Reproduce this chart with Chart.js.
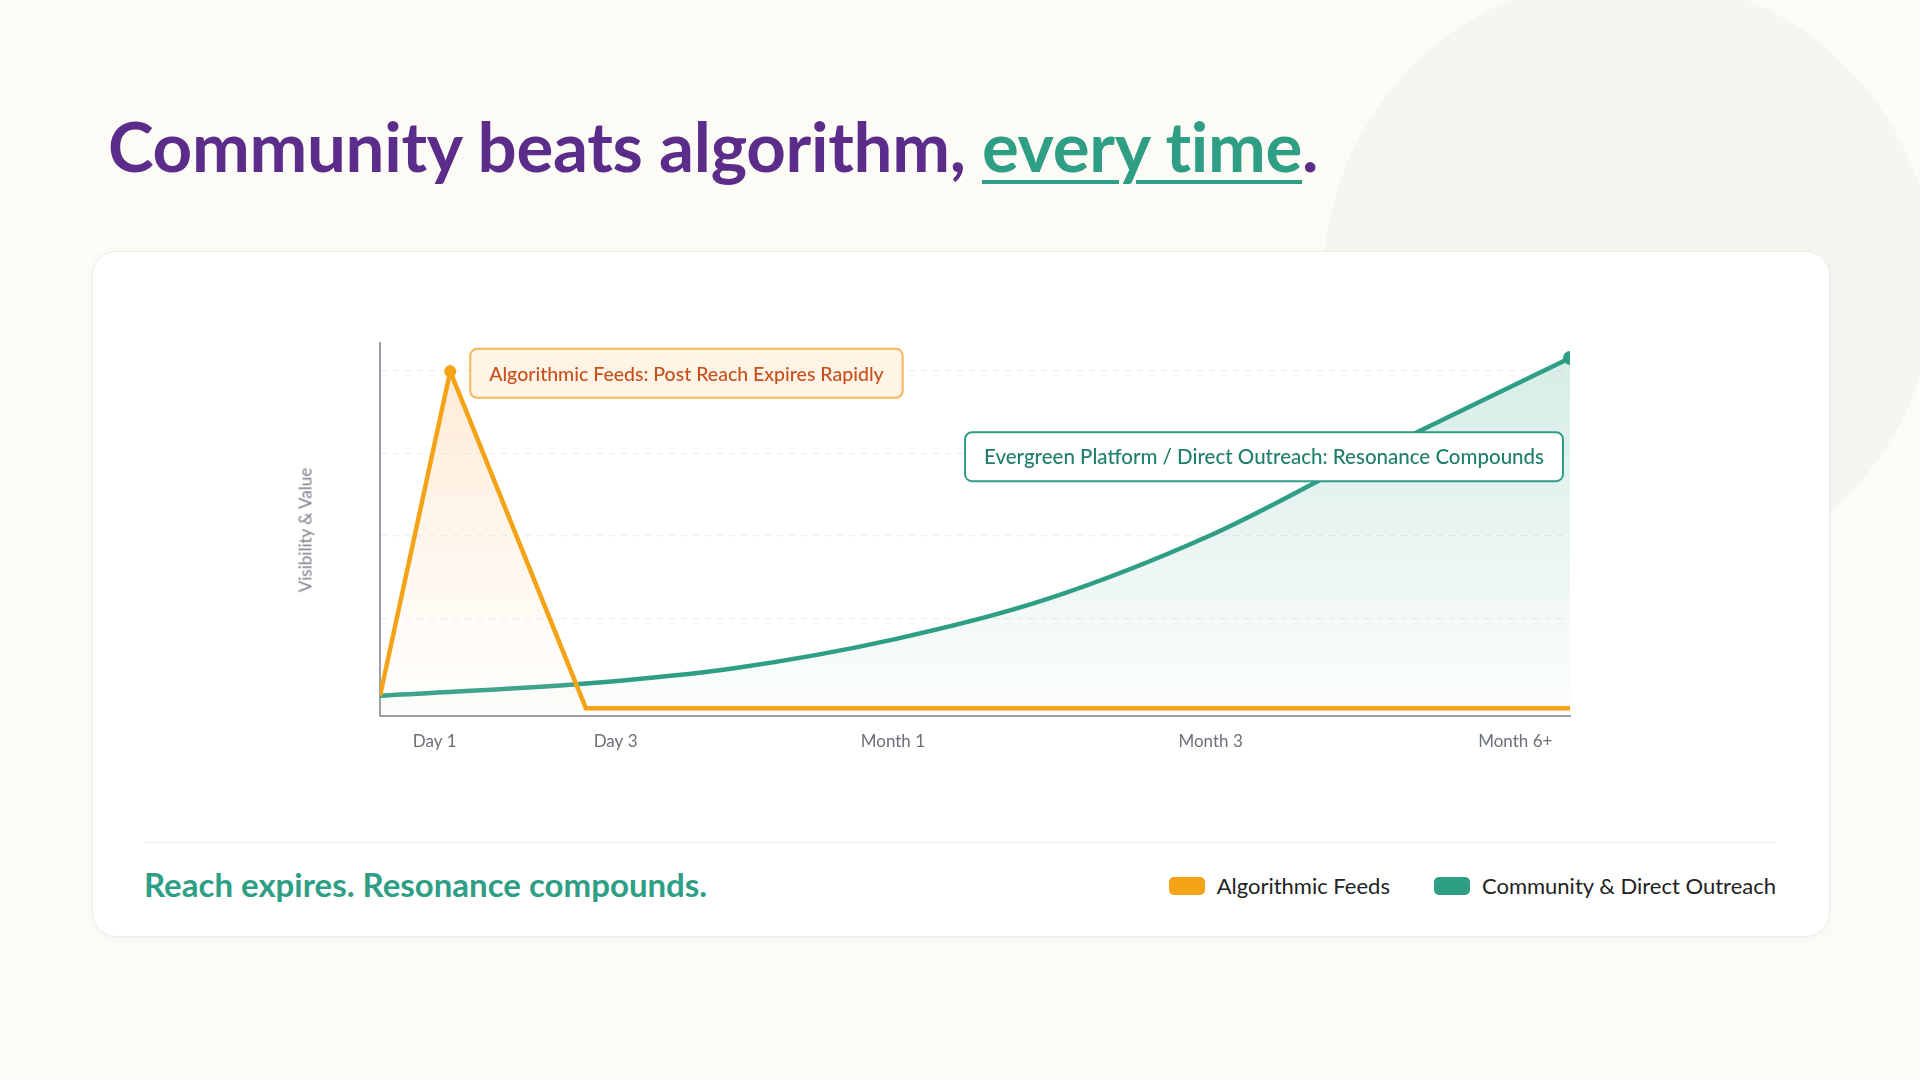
<!DOCTYPE html>
<html><head><meta charset="utf-8">
<script src="https://cdn.jsdelivr.net/npm/chart.js@4.4.1/dist/chart.umd.min.js"></script>
<style>
html,body{margin:0;padding:0;width:1920px;height:1080px;overflow:hidden;background:#fcfbf6;font-family:Lato,"Noto Sans",sans-serif}
#circle{position:absolute;left:1323px;top:-24px;width:612px;height:612px;border-radius:50%;background:#f7f5ef}
h1{position:absolute;left:108px;top:104px;margin:0;font-size:69px;font-weight:700;color:#5b2c8a;letter-spacing:-0.3px}
h1 u{color:#2e9e85;text-decoration-thickness:4px;text-underline-offset:8px}
#card{position:absolute;left:92px;top:251px;width:1736px;height:684px;background:#fff;border:1px solid #eeece6;border-radius:24px;box-shadow:0 2px 10px rgba(0,0,0,0.03)}
#wrap{position:absolute;left:240px;top:300px;width:1400px;height:480px}
#ytitle{position:absolute;left:305px;top:530px;transform:translate(-50%,-50%) rotate(-90deg);font-size:17px;color:#7c7f86;white-space:nowrap}
#rule{position:absolute;left:144px;top:842px;width:1632px;height:1px;background:#eeece6}
#tag{position:absolute;left:144px;top:864px;font-size:33px;font-weight:700;color:#2e9e85}
#legend{position:absolute;right:144px;top:872px;display:flex;gap:44px;font-size:22px;color:#222}
.li{display:flex;align-items:center;gap:12px}
.sw{width:36px;height:18px;border-radius:5px;display:inline-block}
</style></head><body>
<div id="circle"></div>
<h1>Community beats algorithm, <u>every time</u>.</h1>
<div id="card"></div>
<div id="wrap"><canvas id="c"></canvas></div>
<div id="ytitle">Visibility &amp; Value</div>
<div id="rule"></div>
<div id="tag">Reach expires. Resonance compounds.</div>
<div id="legend"><div class="li"><span class="sw" style="background:#f5a316"></span>Algorithmic Feeds</div><div class="li"><span class="sw" style="background:#2e9e85"></span>Community &amp; Direct Outreach</div></div>
<script>
const tickPositions=[4.6,19.8,43.1,69.8,95.4];
const tickLabels=['Day 1','Day 3','Month 1','Month 3','Month 6+'];
const gridValues=[26,48.2,70.4,92.6];
const algoX=[0,5.9,17.3,100];
const algoY=[5.3,92.4,2,2];
const commX=[0,17.3,29.9,43.1,55.7,69.8,81.4,100];
const commY=[5.3,8.6,12.8,20.4,30.9,48.4,67.1,96];
const algoNote='Algorithmic Feeds: Post Reach Expires Rapidly';
const commNote='Evergreen Platform / Direct Outreach: Resonance Compounds';

const ctx=document.getElementById('c');
function grad(c,col1,col2){const {chart}=c;const a=chart.chartArea;if(!a)return col1;const g=chart.ctx.createLinearGradient(0,a.top,0,a.bottom);g.addColorStop(0,col1);g.addColorStop(1,col2);return g;}
const notes={id:'notes',afterDatasetsDraw(chart){
 const c=chart.ctx,x=chart.scales.x,y=chart.scales.y;
 c.save();c.font='500 19.5px Lato, "Noto Sans", sans-serif';c.textBaseline='middle';
 function box(x0,yc,text,bg,border,color,alignRight){
  const w=c.measureText(text).width+38,h=49;const left=alignRight?x0-w:x0;
  c.beginPath();c.roundRect(left,yc-h/2,w,h,7);c.fillStyle=bg;c.fill();c.lineWidth=2;c.strokeStyle=border;c.stroke();
  c.fillStyle=color;c.fillText(text,left+19,yc+1);}
 box(x.getPixelForValue(algoX[1])+20,y.getPixelForValue(algoY[1])+2,algoNote,'#fff4e6','#f7b65a','#c8501c',false);
 c.font='500 20.5px Lato, "Noto Sans", sans-serif';
 box(x.getPixelForValue(100)-7,y.getPixelForValue(69.5),commNote,'#ffffff','#2e9e85','#1f7f6a',true);
 c.restore();}};
new Chart(ctx,{type:'line',
 data:{datasets:[
  {label:'Algorithmic Feeds',data:algoX.map((v,i)=>({x:v,y:algoY[i]})),borderColor:'#f5a316',borderWidth:4.5,tension:0,fill:'origin',
   backgroundColor:c=>grad(c,'rgba(253,204,150,0.45)','rgba(253,230,200,0.05)'),
   pointRadius:[0,6,0,0],pointBackgroundColor:'#f5a316',pointBorderWidth:0},
  {label:'Community & Direct Outreach',data:commX.map((v,i)=>({x:v,y:commY[i]})),borderColor:'#2e9e85',borderWidth:4.5,cubicInterpolationMode:'monotone',fill:'origin',
   backgroundColor:c=>grad(c,'rgba(46,158,133,0.2)','rgba(46,158,133,0.01)'),
   pointRadius:[0,0,0,0,0,0,0,7],pointBackgroundColor:'#2e9e85',pointBorderWidth:0}
 ]},
 options:{responsive:true,maintainAspectRatio:false,animation:false,
  layout:{padding:{left:140,right:70,top:43,bottom:20}},
  plugins:{legend:{display:false},tooltip:{enabled:false}},
  scales:{
   x:{type:'linear',min:0,max:100,afterBuildTicks:a=>{a.ticks=tickPositions.map(v=>({value:v}));},
      ticks:{callback:(v)=>tickLabels[tickPositions.indexOf(v)],color:'#6b6f76',font:{size:17,family:'Lato'},padding:8,autoSkip:false,maxRotation:0},
      grid:{display:false},border:{color:'#9aa0a8',width:2}},
   y:{min:0,max:100,afterBuildTicks:a=>{a.ticks=gridValues.map(v=>({value:v}));},
      ticks:{display:false},grid:{color:'#eeeeee',lineWidth:1.2,drawTicks:false},border:{color:'#9aa0a8',width:2,dash:[6,6]},
      }
  }},
 plugins:[notes]});
</script>
</body></html>
